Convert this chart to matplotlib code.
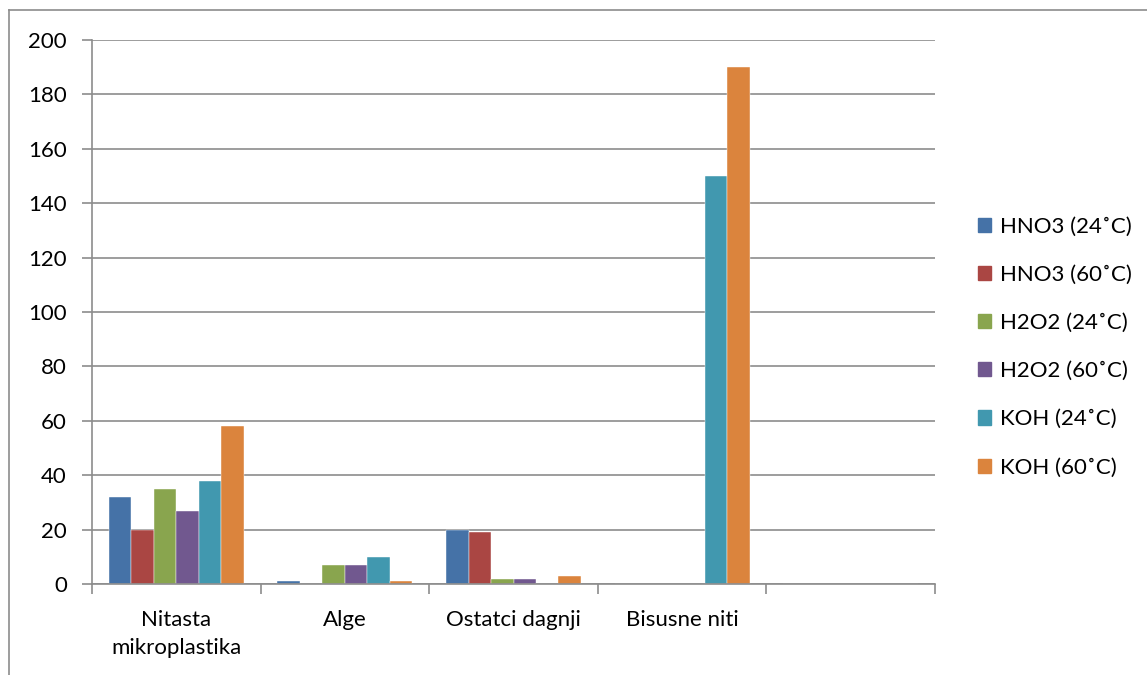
import matplotlib
matplotlib.use("Agg")
import matplotlib.pyplot as plt
import numpy as np
from matplotlib.lines import Line2D

categories = ["Nitasta\nmikroplastika", "Alge", "Ostatci dagnji", "Bisusne niti", ""]
series_names = ["HNO3 (24˚C)", "HNO3 (60˚C)", "H2O2 (24˚C)", "H2O2 (60˚C)", "KOH (24˚C)", "KOH (60˚C)"]
hno3_24 = [32, 1, 20, 0, 0]
hno3_60 = [20, 0, 19, 0, 0]
h2o2_24 = [35, 7, 2, 0, 0]
h2o2_60 = [27, 7, 2, 0, 0]
koh_24 = [38, 10, 0, 150, 0]
koh_60 = [58, 1, 3, 190, 0]
series = [hno3_24, hno3_60, h2o2_24, h2o2_60, koh_24, koh_60]
colors = ["#4572A7", "#AA4643", "#89A54E", "#71588F", "#4198AF", "#DB843D"]
yticks = [0, 20, 40, 60, 80, 100, 120, 140, 160, 180, 200]

plt.rcParams['font.family'] = ['Lato', 'DejaVu Sans']

fig = plt.figure(figsize=(11.47, 6.75), dpi=100)
ax = fig.add_axes([92/1147, 1-584/675, (935-92)/1147, (584-40)/675])

n = len(series)
group_w = 0.8
bw = group_w / n
x = np.arange(len(categories))
for i, (vals, c, name) in enumerate(zip(series, colors, series_names)):
    offs = -group_w/2 + bw*(i+0.5)
    ax.bar(x + offs, vals, width=bw, color=c, label=name, edgecolor='white', linewidth=0.3)

ax.set_xlim(-0.5, len(categories)-0.5)
ax.set_ylim(0, 200)
ax.set_yticks(yticks)
ax.yaxis.grid(True, color='#8c8c8c', linewidth=1.2)
ax.set_axisbelow(True)
for s in ['top', 'right']:
    ax.spines[s].set_visible(False)
ax.spines['left'].set_color('#8c8c8c')
ax.spines['bottom'].set_color('#8c8c8c')
ax.spines['left'].set_linewidth(1.2)
ax.spines['bottom'].set_linewidth(1.2)

ax.set_xticks(np.arange(len(categories)+1) - 0.5)
ax.set_xticklabels([])
ax.set_xticks(x, minor=True)
ax.set_xticklabels(categories, minor=True, fontsize=16, linespacing=1.45)
ax.tick_params(axis='x', which='minor', length=0, pad=19)
ax.tick_params(axis='x', which='major', length=7, color='#8c8c8c', width=1.2)
ax.tick_params(axis='y', length=7, color='#8c8c8c', width=1.2, labelsize=16, pad=11)

handles = [plt.Rectangle((0, 0), 1, 1, color=c) for c in colors]
leg = fig.legend(handles, series_names, loc='center left', bbox_to_anchor=(958/1147, 1-347/675),
                 frameon=False, fontsize=16, handlelength=0.6, handleheight=0.6,
                 labelspacing=1.27, handletextpad=0.4)

# outer chart frame
fig.add_artist(Line2D([9/1147, 9/1147], [0, 1-10/675], color='#8c8c8c', linewidth=1.2))
fig.add_artist(Line2D([9/1147, 1], [1-10/675, 1-10/675], color='#8c8c8c', linewidth=1.2))

fig.savefig("out.png", dpi=100)
